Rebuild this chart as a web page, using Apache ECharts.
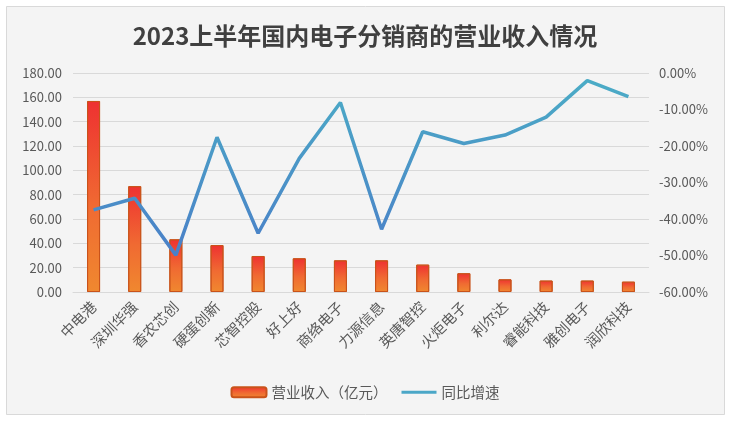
<!DOCTYPE html>
<html>
<head>
<meta charset="utf-8">
<script src="https://cdn.jsdelivr.net/npm/echarts@6/dist/echarts.min.js"></script>
<style>
html,body{margin:0;padding:0;background:#fff;}
#main{width:730px;height:422px;}
</style>
</head>
<body>
<div id="main"></div>
<script>
const titleText = '2023上半年国内电子分销商的营业收入情况';
const categories = ['中电港','深圳华强','香农芯创','硬蛋创新','芯智控股','好上好','商络电子','力源信息','英唐智控','火炬电子','利尔达','睿能科技','雅创电子','润欣科技'];
const revenue = [157, 87, 43.3, 38.6, 29.6, 27.7, 26, 26, 22.5, 15.4, 10.4, 9.4, 9.4, 8.5];
const growth = [-37.5, -34.3, -49.9, -17.6, -43.9, -23.4, -8.1, -42.8, -16.1, -19.3, -17, -12.1, -2.1, -6.5];
const seriesNames = ['营业收入（亿元）', '同比增速'];

const chart = echarts.init(document.getElementById('main'), null, {renderer: 'canvas'});
const font = "'Noto Sans CJK SC', sans-serif";
const txt = '#595959';
const lineIcon = 'path://M0,0 L38,0 L38,0.01 Z M0,3.5 L38,3.5 L38,6.5 L0,6.5 Z M0,10 L38,10 L38,9.99 Z';
chart.setOption({
  backgroundColor: '#ffffff',
  textStyle: {fontFamily: font},
  graphic: [{
    type: 'rect', z: -10, silent: true,
    shape: {x: 6.5, y: 6.5, width: 718, height: 408},
    style: {fill: '#f4f4f4', stroke: '#d9d9d9', lineWidth: 1}
  }],
  title: {
    text: titleText, left: 'center', top: 19,
    textStyle: {fontFamily: font, fontSize: 24, fontWeight: 'bold', color: '#404040'}
  },
  legend: {
    left: 'center', top: 380, itemWidth: 35, itemHeight: 10, itemGap: 14,
    textStyle: {fontFamily: font, fontSize: 14.5, color: txt},
    data: [
      {name: seriesNames[0]},
      {name: seriesNames[1], icon: lineIcon, itemStyle: {color: '#4ba7c7'}}
    ]
  },
  grid: {left: 73, right: 81, top: 73, bottom: 130, containLabel: false},
  xAxis: {
    type: 'category', data: categories,
    axisLine: {lineStyle: {color: '#d9d9d9', width: 1}},
    axisTick: {show: false},
    axisLabel: {rotate: 45, fontSize: 14.5, color: txt, margin: 12, interval: 0, fontFamily: font}
  },
  yAxis: [{
    type: 'value', min: 0, max: 180, interval: 20,
    axisLine: {show: false}, axisTick: {show: false},
    splitLine: {lineStyle: {color: '#d9d9d9', width: 1}},
    axisLabel: {fontSize: 13, color: txt, margin: 11, formatter: v => v.toFixed(2), fontFamily: font}
  }, {
    type: 'value', min: -60, max: 0, interval: 10, position: 'right',
    axisLine: {show: false}, axisTick: {show: false},
    splitLine: {show: false},
    axisLabel: {fontSize: 13, color: txt, margin: 10, formatter: v => v.toFixed(2) + '%', fontFamily: font}
  }],
  series: [{
    name: seriesNames[0], type: 'bar', data: revenue, barWidth: 13, yAxisIndex: 0,
    itemStyle: {
      color: new echarts.graphic.LinearGradient(0, 0, 0, 1, [
        {offset: 0, color: '#ee3131'}, {offset: 0.55, color: '#f06a32'}, {offset: 1, color: '#f0882f'}
      ]),
      borderColor: '#c9531a', borderWidth: 1
    }
  }, {
    name: seriesNames[1], type: 'line', data: growth, yAxisIndex: 1,
    symbol: 'none', smooth: false,
    lineStyle: {
      width: 3.5,
      color: new echarts.graphic.LinearGradient(0, 0, 0, 1, [
        {offset: 0, color: '#4bacc6'}, {offset: 1, color: '#4a7fc8'}
      ])
    },
    itemStyle: {color: '#4ba3c7'}
  }]
});
</script>
</body>
</html>
